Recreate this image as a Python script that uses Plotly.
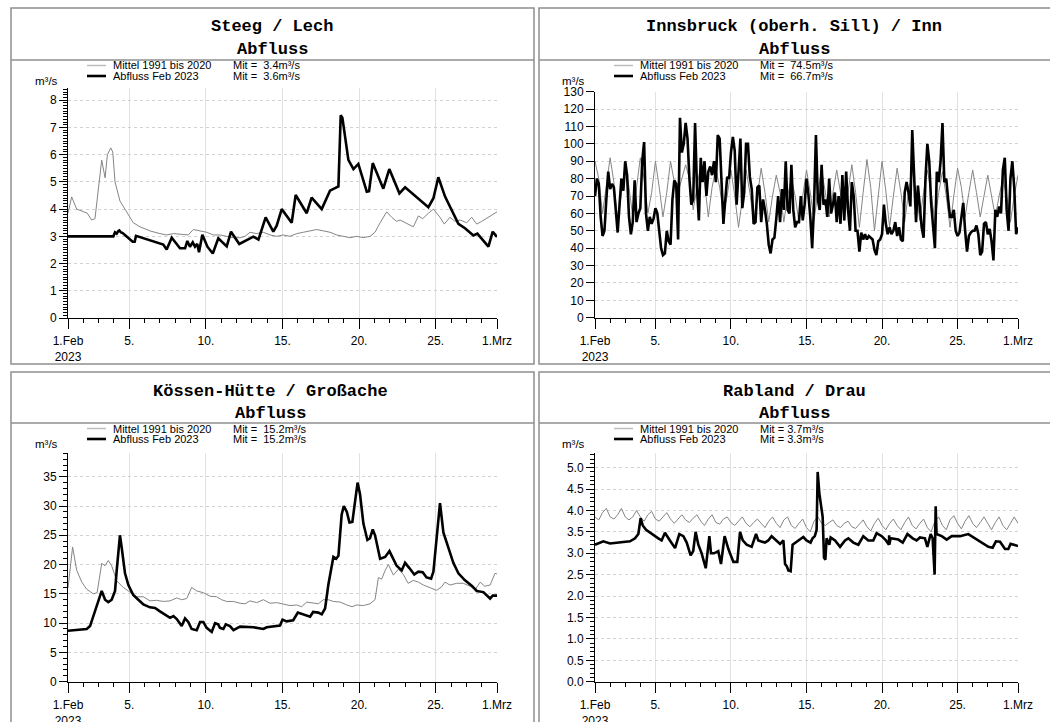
import plotly.graph_objects as go

W, H = 1050, 722

# ---------------- DATA ----------------
x_tickvals = [0, 4, 9, 14, 19, 24, 28]
x_ticktext = ["1.Feb<br>2023", "5.", "10.", "15.", "20.", "25.", "1.Mrz"]

# Steeg / Lech (days since 1 Feb)
steeg_mean_t = [0.0, 0.24, 0.57, 1.0, 1.26, 1.54, 1.76, 2.2, 2.42, 2.57, 2.79, 2.92, 3.07, 3.39, 3.83, 4.26, 4.7,
                5.35, 6.0, 6.44, 6.88, 7.53, 7.85, 8.18, 8.62, 9.05, 9.49, 9.92, 10.36, 10.79, 11.23, 11.55, 11.88,
                12.32, 12.75, 13.19, 13.62, 14.06, 14.49, 14.93, 15.36, 15.8, 16.23, 16.67, 17.1, 17.54, 17.97,
                18.41, 18.84, 19.28, 19.71, 20.04, 20.37, 20.8, 21.13, 21.45, 21.67, 22.0, 22.54, 22.87, 23.15,
                23.52, 23.85, 24.28, 24.56, 24.93, 25.26, 25.59, 26.02, 26.35, 26.68, 27.0, 27.55, 28.0]
steeg_mean_q = [3.85, 4.45, 4.0, 3.9, 3.85, 3.6, 3.65, 5.8, 5.15, 6.0, 6.25, 6.1, 5.0, 4.3, 3.9, 3.5, 3.35,
                3.2, 3.1, 3.05, 3.1, 3.05, 3.05, 3.25, 3.2, 3.15, 3.05, 3.05, 3.0, 2.95, 2.95, 3.0, 3.15,
                3.1, 3.15, 3.05, 3.0, 3.05, 3.0, 3.1, 3.15, 3.2, 3.25, 3.2, 3.15, 3.05, 3.0,
                2.95, 3.0, 2.95, 3.0, 3.15, 3.5, 3.9, 3.7, 3.55, 3.6, 3.5, 3.35, 3.75, 3.65,
                3.85, 4.0, 3.7, 3.45, 3.7, 3.55, 3.6, 3.5, 3.7, 3.45, 3.55, 3.75, 3.9]
steeg_2023_t = [0.0, 2.96, 3.07, 3.18, 3.29, 3.35, 3.44, 3.57, 4.22, 4.35, 4.44, 6.22, 6.44, 6.77, 7.31, 7.64,
                7.79, 7.96, 8.14, 8.29, 8.44, 8.55, 8.77, 9.1, 9.45, 9.81, 10.36, 10.64, 11.18, 12.1, 12.43,
                12.9, 13.4, 13.62, 13.95, 14.6, 14.86, 15.58, 15.9, 16.56, 17.1, 17.65, 17.8, 17.91, 18.3,
                18.63, 18.95, 19.5, 19.65, 19.89, 20.58, 20.97, 21.63, 22.0, 23.52, 23.85, 24.17, 24.61,
                25.48, 25.91, 26.46, 26.72, 27.44, 27.72, 28.0]
steeg_2023_q = [3.0, 3.0, 3.15, 3.1, 3.2, 3.22, 3.15, 3.12, 2.8, 2.8, 3.02, 2.7, 2.52, 2.95, 2.56, 2.56,
                2.83, 2.62, 2.78, 2.62, 2.72, 2.42, 3.06, 2.62, 2.37, 2.93, 2.63, 3.17, 2.72, 2.99, 2.88,
                3.7, 3.17, 3.39, 4.0, 3.5, 4.52, 3.85, 4.42, 4.0, 4.68, 4.83, 7.45, 7.35, 5.81,
                5.47, 5.66, 4.64, 4.66, 5.69, 4.75, 5.47, 4.58, 4.8, 4.07, 4.4, 5.17, 4.46,
                3.46, 3.3, 3.03, 3.1, 2.62, 3.17, 2.98]

# Innsbruck (oberh. Sill) / Inn
inn_mean_step_h = 6
inn_mean_q = [90, 80, 60, 75, 92, 78, 55, 72, 88, 75, 58, 75, 92, 80, 60, 72, 90, 75, 58, 72,
              90, 78, 72, 80, 88, 80, 62, 75, 88, 78, 58, 75, 86, 75, 60, 70, 85, 70, 52, 68,
              85, 72, 55, 70, 86, 72, 55, 70, 82, 72, 55, 70, 80, 70, 55, 70, 85, 72, 56, 72,
              85, 72, 58, 72, 85, 72, 56, 72, 88, 72, 52, 72, 91, 75, 50, 70, 90, 73, 52, 70,
              86, 72, 55, 72, 85, 72, 56, 72, 85, 72, 55, 72, 84, 70, 52, 70, 86, 75, 58, 72,
              85, 72, 58, 70, 82, 70, 58, 70, 80, 70, 55, 70, 82]
inn_2023_step_h = 3
inn_2023_q = [70, 80, 77, 58, 47, 50, 68, 84,
              74, 77, 75, 60, 49, 65, 80, 73,
              90, 82, 58, 48, 55, 79, 55, 60,
              63, 90, 101, 60, 50, 58, 54, 57,
              63, 60, 50, 40, 36, 37, 50, 44,
              42, 68, 79, 77, 45, 115, 95, 100,
              112, 103, 80, 65, 68, 112, 75, 56,
              92, 78, 90, 70, 84, 87, 82, 90,
              78, 105, 103, 78, 54, 68, 81, 80,
              95, 104, 96, 65, 86, 103, 63, 72,
              100, 100, 81, 74, 54, 55, 75, 76,
              55, 68, 62, 54, 42, 37, 45, 46,
              57, 70, 55, 74, 62, 90, 62, 60,
              88, 62, 52, 55, 55, 70, 56, 65,
              80, 71, 58, 40, 65, 105, 68, 62,
              88, 65, 68, 58, 80, 60, 65, 72,
              55, 70, 54, 82, 56, 84, 62, 50,
              78, 70, 50, 50, 38, 49, 45, 48,
              45, 47, 46, 45, 39, 36, 44, 45,
              48, 65, 54, 48, 52, 48, 50, 55,
              47, 52, 45, 44, 72, 78, 72, 64,
              108, 85, 55, 76, 65, 52, 46, 80,
              100, 90, 66, 52, 40, 84, 78, 90,
              112, 78, 80, 68, 58, 58, 62, 50,
              47, 49, 58, 66, 50, 38, 47, 49,
              50, 50, 53, 48, 36, 38, 54, 55,
              48, 51, 44, 33, 62, 58, 64, 60,
              85, 92, 62, 50, 80, 90, 75, 48,
              52]

# Kössen-Hütte / Großache
koe_mean_t = [0.0, 0.3, 0.57, 0.9, 1.22, 1.65, 1.9, 2.2, 2.42, 2.63, 2.85, 3.18, 3.61, 4.05, 4.48, 4.92, 5.35,
              5.79, 6.22, 6.66, 7.1, 7.42, 7.75, 8.07, 8.4, 8.83, 9.27, 9.7, 10.03, 10.36, 10.79, 11.23,
              11.55, 11.88, 12.32, 12.75, 13.19, 13.62, 14.05, 14.49, 14.93, 15.25, 15.58, 16.0, 16.34,
              16.67, 16.99, 17.32, 17.76, 18.2, 18.54, 18.84, 19.28, 19.71, 20.04, 20.26, 20.47, 20.7,
              20.91, 21.24, 21.56, 21.89, 22.2, 22.54, 22.87, 23.2, 23.64, 24.06, 24.39, 24.6, 24.93,
              25.37, 25.8, 26.24, 26.57, 26.9, 27.2, 27.55, 27.87, 28.0]
koe_mean_q = [16.0, 23.0, 19.0, 17.0, 15.8, 15.0, 15.2, 20.2, 19.8, 20.7, 19.8, 17.2, 16.1, 15.3, 14.5, 14.5, 13.8,
              13.9, 13.7, 13.8, 14.3, 14.0, 14.2, 16.1, 15.5, 15.2, 14.6, 14.5, 14.0, 13.7, 13.7, 13.4,
              13.3, 13.8, 13.5, 14.0, 13.4, 13.5, 13.3, 13.0, 13.1, 12.8, 13.6, 13.4, 13.3,
              14.0, 14.0, 13.7, 13.6, 13.1, 12.8, 13.1, 13.0, 13.3, 14.0, 17.8, 17.5, 19.0,
              20.0, 18.2, 19.2, 18.3, 16.8, 17.3, 17.0, 16.5, 16.1, 15.6, 16.2, 17.0, 16.5,
              16.8, 16.8, 16.3, 15.7, 17.0, 16.3, 16.5, 18.5, 18.4]
koe_2023_t = [0.0, 1.22, 1.44, 1.76, 2.2, 2.42, 2.63, 2.85, 3.07, 3.18, 3.39, 3.5, 3.72, 3.94, 4.26, 4.59, 4.92,
              5.35, 5.68, 6.0, 6.44, 6.66, 6.88, 7.1, 7.42, 7.64, 7.85, 8.07, 8.4, 8.62, 8.83, 9.05, 9.38,
              9.6, 9.8, 9.92, 10.14, 10.3, 10.57, 10.8, 11.23, 12.1, 12.75, 12.97, 13.84, 14.0, 14.27,
              14.7, 15.0, 15.36, 15.8, 16.0, 16.34, 16.56, 16.78, 16.99, 17.2, 17.32, 17.5, 17.65, 17.86,
              18.0, 18.2, 18.37, 18.56, 18.73, 18.9, 19.06, 19.28, 19.54, 19.71, 19.89, 20.04, 20.37,
              20.7, 20.98, 21.24, 21.45, 21.78, 22.0, 22.28, 22.6, 22.87, 23.15, 23.4, 23.7, 23.85,
              24.06, 24.28, 24.5, 24.8, 25.15, 25.48, 25.91, 26.35, 26.68, 27.11, 27.37, 27.55, 27.72, 28.0]
koe_2023_q = [8.7, 9.0, 9.5, 12.0, 15.5, 14.0, 13.6, 14.0, 15.5, 19.0, 25.0, 23.0, 18.5, 16.5, 14.8, 14.0, 13.2,
              12.7, 12.6, 12.0, 11.2, 10.9, 11.2, 10.7, 9.5, 10.8, 10.2, 9.0, 8.8, 10.2, 10.2, 9.2, 8.5,
              10.0, 9.8, 9.2, 9.0, 9.8, 9.5, 8.8, 9.4, 9.3, 9.0, 9.3, 9.6, 10.6, 10.3,
              10.5, 11.8, 11.5, 11.1, 11.9, 11.8, 11.5, 12.5, 16.5, 19.5, 21.3, 21.0, 21.5, 28.5,
              30.0, 29.0, 27.2, 27.3, 30.5, 34.0, 32.0, 27.0, 24.2, 24.5, 26.0, 25.0, 21.0,
              21.3, 22.3, 21.0, 19.8, 19.0, 20.3, 19.4, 18.3, 18.8, 18.7, 17.8, 17.6, 18.8,
              24.0, 30.5, 25.5, 23.0, 20.3, 18.5, 17.3, 16.4, 15.5, 15.3, 14.6, 14.2, 14.7, 14.7]

# Rabland / Drau
rab_mean_step_h = 6
rab_mean_q = [3.85, 3.78, 3.95, 4.05, 3.85, 3.8, 3.9, 4.05, 3.85, 3.78, 3.85, 4.0, 3.85, 3.75, 3.9, 3.98,
              3.8, 3.75, 3.85, 3.95, 3.8, 3.7, 3.8, 3.9, 3.78, 3.72, 3.82, 3.9, 3.75, 3.65, 3.8, 3.9,
              3.72, 3.68, 3.8, 3.85, 3.72, 3.65, 3.75, 3.85, 3.7, 3.62, 3.72, 3.8, 3.7, 3.6, 3.75, 3.85,
              3.7, 3.6, 3.78, 3.85, 3.65, 3.58, 3.7, 3.8, 3.6, 3.5, 3.75, 3.85, 3.7, 3.65, 3.72, 3.78,
              3.65, 3.6, 3.7, 3.75, 3.62, 3.58, 3.68, 3.78, 3.62, 3.52, 3.7, 3.82, 3.65, 3.55, 3.7, 3.8,
              3.65, 3.55, 3.72, 3.85, 3.65, 3.57, 3.7, 3.8, 3.6, 3.5, 3.75, 3.85, 3.65, 3.55, 3.78, 3.88,
              3.7, 3.57, 3.75, 3.88, 3.7, 3.6, 3.72, 3.85, 3.7, 3.55, 3.72, 3.85, 3.65, 3.55, 3.7, 3.85,
              3.7]
rab_2023_t = [0.0, 0.33, 0.55, 0.99, 1.65, 2.32, 2.65, 2.87, 3.02, 3.16, 3.38, 3.75, 4.19, 4.41, 4.63, 4.96,
              5.3, 5.58, 5.85, 6.07, 6.33, 6.5, 6.66, 6.84, 7.06, 7.33, 7.44, 7.57, 7.68, 7.88, 8.16, 8.34,
              8.58, 8.83, 9.16, 9.42, 9.6, 9.78, 10.04, 10.37, 10.66, 10.81, 11.25, 11.47, 11.69, 12.03,
              12.25, 12.47, 12.58, 12.69, 12.8, 12.95, 13.08, 13.35, 13.79, 14.0, 14.27, 14.4, 14.55,
              14.67, 14.74, 14.85, 14.94, 15.07, 15.16, 15.25, 15.33, 15.51, 15.6, 15.89, 16.22, 16.55,
              16.77, 17.1, 17.43, 17.76, 18.09, 18.42, 18.64, 18.98, 19.26, 19.46, 19.47, 19.48, 19.57,
              20.08, 20.37, 20.68, 21.03, 21.29, 21.51, 21.84, 22.0, 22.13, 22.22, 22.35, 22.48, 22.55,
              22.61, 22.95, 23.28, 23.61, 24.16, 24.71, 25.15, 25.6, 26.04, 26.32, 26.54, 26.81, 27.14,
              27.36, 27.51, 27.73, 28.0]
rab_2023_q = [3.2, 3.25, 3.28, 3.23, 3.25, 3.28, 3.35, 3.45, 3.82, 3.65, 3.55, 3.45, 3.35, 3.3, 3.48, 3.3,
              3.12, 3.45, 3.4, 3.25, 2.95, 3.05, 3.5, 3.2, 3.0, 2.65, 2.95, 3.4, 3.0, 3.0, 3.05, 2.75,
              3.4, 3.1, 2.8, 2.8, 3.5, 3.3, 3.2, 3.15, 3.45, 3.3, 3.25, 3.3, 3.4, 3.3,
              3.22, 3.3, 2.75, 2.7, 2.6, 2.58, 3.2, 3.27, 3.38, 3.3, 3.25, 3.35, 3.4,
              3.55, 4.9, 4.4, 4.15, 3.85, 2.9, 2.85, 3.35, 3.2, 3.37, 3.3, 3.15, 3.3,
              3.35, 3.25, 3.2, 3.4, 3.3, 3.3, 3.47, 3.4, 3.3, 3.2, 3.42, 3.2, 3.35,
              3.32, 3.25, 3.45, 3.35, 3.3, 3.37, 3.35, 3.15, 3.35, 3.45, 3.35, 2.5, 4.1,
              3.45, 3.4, 3.32, 3.4, 3.4, 3.45, 3.35, 3.25, 3.15, 3.13, 3.28, 3.27, 3.1,
              3.1, 3.22, 3.2, 3.17]

panels = [
    dict(title="Steeg / Lech", mean_label="Mit =\u00a0 3.4m³/s", obs_label="Mit =\u00a0 3.6m³/s",
         yrange=[0, 8.45], ymin=0.1, yfmt="d", yvals=list(range(0, 9))),
    dict(title="Innsbruck (oberh. Sill) / Inn", mean_label="Mit =\u00a0 74.5m³/s", obs_label="Mit =\u00a0 66.7m³/s",
         yrange=[0, 130], ymin=None, yfmt="d", yvals=list(range(0, 131, 10))),
    dict(title="Kössen-Hütte / Großache", mean_label="Mit =\u00a0 15.2m³/s", obs_label="Mit =\u00a0 15.2m³/s",
         yrange=[0, 39.1], ymin=1, yfmt="d", yvals=list(range(0, 36, 5))),
    dict(title="Rabland / Drau", mean_label="Mit = 3.7m³/s", obs_label="Mit = 3.3m³/s",
         yrange=[0, 5.35], ymin=0.1, yfmt=".1f", yvals=[i * 0.5 for i in range(11)]),
]

series = [
    (steeg_mean_t, steeg_mean_q, steeg_2023_t, steeg_2023_q),
    ([i * inn_mean_step_h / 24 for i in range(len(inn_mean_q))], inn_mean_q,
     [i * inn_2023_step_h / 24 for i in range(len(inn_2023_q))], inn_2023_q),
    (koe_mean_t, koe_mean_q, koe_2023_t, koe_2023_q),
    ([i * rab_mean_step_h / 24 for i in range(len(rab_mean_q))], rab_mean_q, rab_2023_t, rab_2023_q),
]

# ---------------- LAYOUT (pixel geometry) ----------------
def px(x):
    return x / W

def py(y):
    return 1 - y / H

# plot areas in pixels: (x0, x1, ytop, ybottom)
areas = [(68, 497, 88, 318), (595, 1018, 91.7, 317.7), (68, 497, 452.7, 681.7), (595, 1018, 452.7, 681.7)]
# panel frames: (x0, x1, top, sep, bottom)
frames = [(11, 534, 8, 60, 364), (539, 1060, 8, 60, 364), (11, 534, 372, 423, 740), (539, 1060, 372, 423, 740)]
title_cx = [272, 794, 270, 794]

fig = go.Figure()
FONT = "Liberation Sans, Arial, Helvetica, sans-serif"
MONO = "Liberation Mono, Courier New, monospace"
MEAN_COLOR = "#858585"

shapes = []
annotations = []

for i, (p, s, a, f) in enumerate(zip(panels, series, areas, frames)):
    xa = "x" if i == 0 else f"x{i+1}"
    ya = "y" if i == 0 else f"y{i+1}"
    mt, mq, ot, oq = s
    fig.add_trace(go.Scatter(x=mt, y=mq, mode="lines", line=dict(color=MEAN_COLOR, width=1),
                             xaxis=xa, yaxis=ya, showlegend=False, hoverinfo="skip"))
    fig.add_trace(go.Scatter(x=ot, y=oq, mode="lines", line=dict(color="black", width=2.6),
                             xaxis=xa, yaxis=ya, showlegend=False, hoverinfo="skip"))

    xk = "xaxis" if i == 0 else f"xaxis{i+1}"
    yk = "yaxis" if i == 0 else f"yaxis{i+1}"
    x0, x1, yt, yb = a
    xaxis = dict(domain=[px(x0), px(x1)], range=[0, 28], anchor=ya, automargin=False,
                 tickmode="array", tickvals=x_tickvals, ticktext=x_ticktext,
                 ticks="outside", ticklen=10, tickwidth=1, tickcolor="black",
                 showline=True, linecolor="black", linewidth=1,
                 showgrid=True, gridcolor="#e2e2e2", griddash="solid", gridwidth=1,
                 zeroline=False, ticklabelstandoff=2,
                 tickfont=dict(family=FONT, size=12, color="black"),
                 minor=dict(tickmode="linear", tick0=0, dtick=1, ticks="outside", ticklen=4,
                            tickcolor="black", tickwidth=1, showgrid=False))
    yaxis = dict(domain=[py(yb), py(yt)], range=p["yrange"], anchor=xa, automargin=False,
                 tickmode="array", tickvals=p["yvals"],
                 ticktext=[(f"{v:.1f}" if p["yfmt"] == ".1f" else f"{int(v)}") for v in p["yvals"]],
                 ticks="outside", ticklen=8, tickwidth=1, tickcolor="black",
                 showline=True, linecolor="black", linewidth=1,
                 showgrid=True, gridcolor="#d2d2d2", griddash="dot", gridwidth=1,
                 zeroline=False, ticklabelstandoff=0,
                 tickfont=dict(family=FONT, size=12, color="black"))
    if p["ymin"] is not None:
        yaxis["minor"] = dict(tickmode="linear", tick0=0, dtick=p["ymin"], ticks="outside", ticklen=4,
                              tickcolor="black", tickwidth=1, showgrid=False)
    fig.update_layout(**{xk: xaxis, yk: yaxis})

    # frames
    fx0, fx1, ftop, fsep, fbot = f
    shapes.append(dict(type="rect", xref="paper", yref="paper", x0=px(fx0), x1=px(fx1), y0=py(fbot), y1=py(ftop),
                       line=dict(color="#8f8f8f", width=1.5), layer="below"))
    shapes.append(dict(type="line", xref="paper", yref="paper", x0=px(fx0), x1=px(fx1), y0=py(fsep), y1=py(fsep),
                       line=dict(color="#8f8f8f", width=1.5)))
    # titles
    annotations.append(dict(text=f"<b>{p['title']}</b>", x=px(title_cx[i]), y=py(ftop + 19), xref="paper", yref="paper",
                            xanchor="center", yanchor="middle", showarrow=False,
                            font=dict(family=MONO, size=17, color="black")))
    annotations.append(dict(text="<b>Abfluss</b>", x=px(title_cx[i]), y=py(ftop + 41), xref="paper", yref="paper",
                            xanchor="center", yanchor="middle", showarrow=False,
                            font=dict(family=MONO, size=17, color="black")))
    # legend
    lx = x0 + 19
    ly1 = fsep + 5.5
    ly2 = fsep + 16
    shapes.append(dict(type="line", xref="paper", yref="paper", x0=px(lx), x1=px(lx + 19), y0=py(ly1), y1=py(ly1),
                       line=dict(color="#bdbdbd", width=1.5)))
    shapes.append(dict(type="line", xref="paper", yref="paper", x0=px(lx), x1=px(lx + 19), y0=py(ly2), y1=py(ly2),
                       line=dict(color="black", width=2.6)))
    for txt, tx, ty in [("Mittel 1991 bis 2020", lx + 24, ly1), ("Abfluss Feb 2023", lx + 24, ly2),
                        (p["mean_label"], lx + 144, ly1), (p["obs_label"], lx + 144, ly2)]:
        annotations.append(dict(text=txt, x=px(tx), y=py(ty), xref="paper", yref="paper",
                                xanchor="left", yanchor="middle", showarrow=False,
                                font=dict(family=FONT, size=11, color="black")))
    # unit
    annotations.append(dict(text="m³/s", x=px(x0 - 22), y=py(fsep + 21), xref="paper", yref="paper",
                            xanchor="center", yanchor="middle", showarrow=False,
                            font=dict(family=FONT, size=11.5, color="black")))

fig.update_layout(template="none", width=W, height=H, margin=dict(l=0, r=0, t=0, b=0, pad=0, autoexpand=False),
                  paper_bgcolor="white", plot_bgcolor="white",
                  shapes=shapes, annotations=annotations, showlegend=False)

fig.write_html("out.html", config={"displayModeBar": False},
               post_script="document.body.style.margin='0px';document.body.style.overflow='hidden';")
